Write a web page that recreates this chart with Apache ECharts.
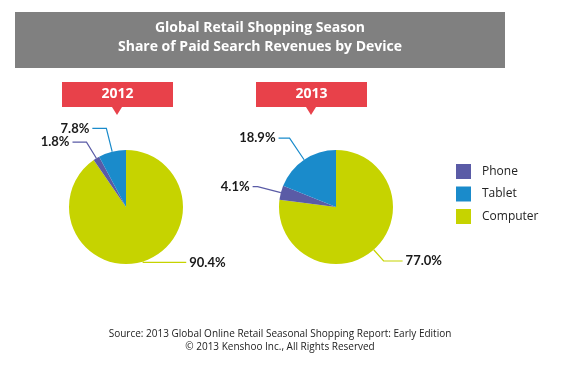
<!DOCTYPE html>
<html><head><meta charset="utf-8">
<script src="https://cdn.jsdelivr.net/npm/echarts@6/dist/echarts.min.js"></script>
<style>html,body{margin:0;padding:0;background:#fff}#c{width:563px;height:372px}</style>
</head><body><div id="c"></div>
<script>
const devices = ['Computer', 'Phone', 'Tablet'];
const legendOrder = ['Phone', 'Tablet', 'Computer'];
const years = ['2012', '2013'];
const share2012 = [90.4, 1.8, 7.8];
const share2013 = [77.0, 4.1, 18.9];
const colors = { Phone: '#5a5ba6', Tablet: '#1a8bcb', Computer: '#c6d300' };
const titleLines = ['Global Retail Shopping Season', 'Share of Paid Search Revenues by Device'];
const footerLines = ['Source: 2013 Global Online Retail Seasonal Shopping Report: Early Edition', '\u00a9 2013 Kenshoo Inc., All Rights Reserved'];

const FONT = 'Lato, "Open Sans", sans-serif';
const FONT2 = '"Open Sans", Lato, sans-serif';

// leader line lengths per pie (styling, order = devices)
const leader2012 = [[1, 43], [19, 14], [24, 14]];
const leader2013 = [[15, 19], [24, 5], [26, 11]];

const chart = echarts.init(document.getElementById('c'));

function pieSeries(name, values, center, leaders) {
  return {
    type: 'pie', name, radius: 57, center, startAngle: 90, clockwise: true,
    avoidLabelOverlap: false,
    data: devices.map((d, i) => ({ name: d, value: values[i], itemStyle: { color: colors[d] },
      labelLine: { length: leaders[i][0], length2: leaders[i][1], lineStyle: { color: colors[d], width: 1.2 } } })),
    label: { formatter: p => p.value.toFixed(1) + '%', color: '#1a1a1a', fontFamily: FONT,
      fontWeight: 'bold', fontSize: 13, distanceToLabelLine: 3 },
    labelLine: { show: true, smooth: false },
    itemStyle: { borderWidth: 0 },
    emphasis: { disabled: true }, animation: false
  };
}

function yearBox(x, text) {
  return { type: 'group', left: x, top: 82, children: [
    { type: 'rect', shape: { x: 0, y: 0, width: 111, height: 25 }, style: { fill: '#e8414a' } },
    { type: 'polygon', shape: { points: [[50, 25], [60, 25], [55, 33]] }, style: { fill: '#e8414a' } },
    { type: 'text', x: 55.5, y: 12.5, style: { text, fill: '#fff', font: 'bold 14px ' + FONT2, align: 'center', verticalAlign: 'middle' } }
  ]};
}

chart.setOption({
  animation: false,
  title: [
    { text: titleLines.join('\n'), left: 260, top: 19, textAlign: 'center', padding: 0,
      textStyle: { color: '#fff', fontFamily: FONT2, fontWeight: 'bold', fontSize: 14, lineHeight: 19 } },
    { text: footerLines.join('\n'), left: 280, top: 328, textAlign: 'center', padding: 0,
      textStyle: { color: '#222', fontFamily: FONT2, fontWeight: 'normal', fontSize: 10, lineHeight: 12.5 } }
  ],
  graphic: [
    { type: 'rect', z: -1, shape: { x: 15, y: 12, width: 490, height: 56 }, style: { fill: '#808080' } },
    yearBox(62, years[0]),
    yearBox(256, years[1])
  ],
  legend: {
    orient: 'vertical', left: 456, top: 164, padding: 0, itemWidth: 15, itemHeight: 15, itemGap: 7.5,
    icon: 'rect', data: legendOrder, selectedMode: false,
    textStyle: { color: '#222', fontFamily: FONT2, fontSize: 12, padding: [0, 0, 0, 6] }
  },
  series: [
    pieSeries(years[0], share2012, [126, 207], leader2012),
    pieSeries(years[1], share2013, [336, 207], leader2013)
  ]
});
</script></body></html>
